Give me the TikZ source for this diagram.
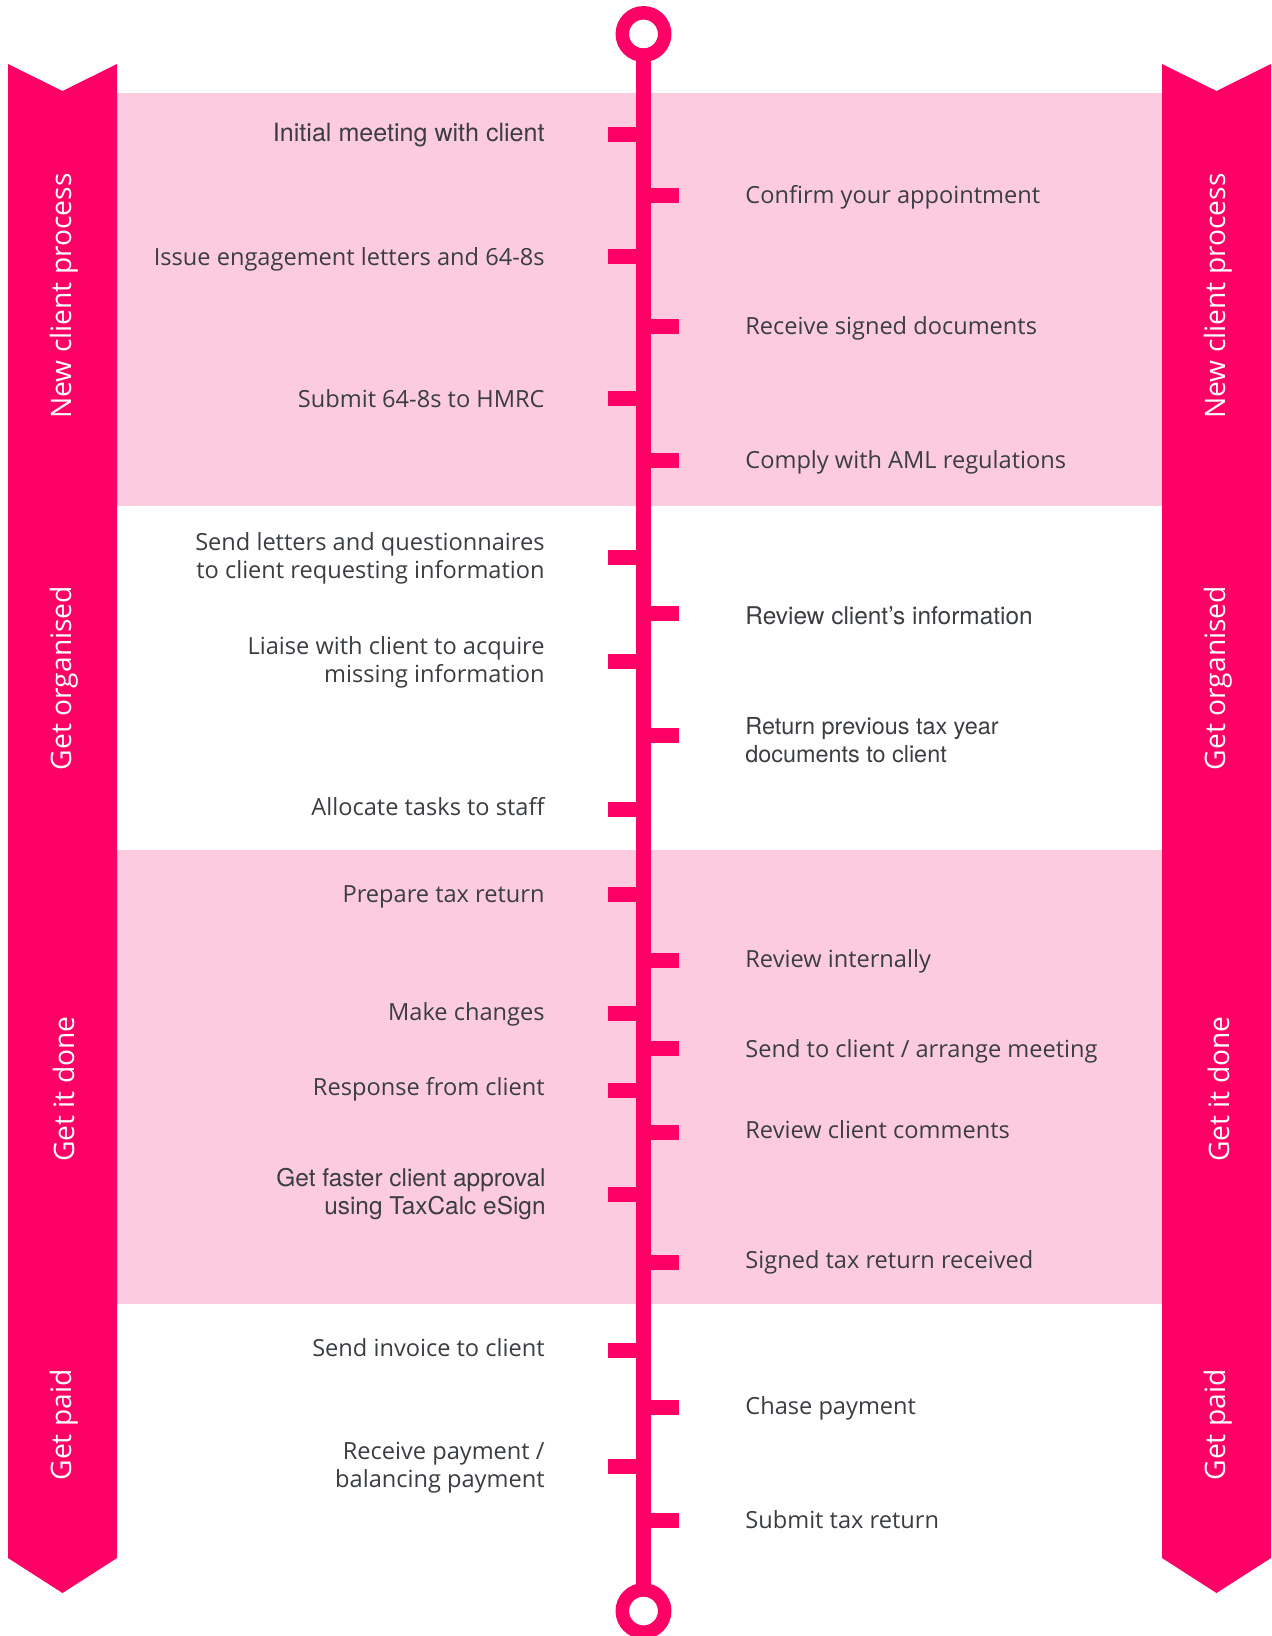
\documentclass[tikz,border=0pt]{standalone}
\usepackage{fontspec}
\setmainfont{Open Sans}
\newfontfamily\helv{TeX Gyre Heros}
\definecolor{hotpink}{HTML}{FF0066}
\definecolor{blush}{HTML}{FDCBE0}
\definecolor{ink}{HTML}{3A3D42}

\begin{document}
\begin{tikzpicture}[x=0.5pt,y=-0.5pt,
    lefttask/.style={anchor=east,align=right,inner sep=0pt,text=ink,
      font=\fontsize{11.8}{14}\selectfont},
    righttask/.style={anchor=west,align=left,inner sep=0pt,text=ink,
      font=\fontsize{11.8}{14}\selectfont},
    helvtask/.style={font=\helv\fontsize{#1}{14}\selectfont},
    helvtask/.default=12.2,
    stage/.style={rotate=90,inner sep=0pt,text=white,
      font=\fontsize{14.1}{16}\selectfont},
    banner/.style={fill=hotpink},
    spur/.style={fill=hotpink}]
    \useasboundingbox (0,0) rectangle (1271,1636);

    % Shaded stages
    \fill[blush] (117,92.7) rectangle (1162,505.7);
    \fill[blush] (117,849.7) rectangle (1162,1303.7);

    % Side banners
    \fill[banner] (8,64) -- (62.5,91) -- (117,64) -- (117,1558)
      -- (62.5,1593) -- (8,1558) -- cycle;
    \fill[banner] (1162,64) -- (1216.5,91) -- (1271,64) -- (1271,1558)
      -- (1216.5,1593) -- (1162,1558) -- cycle;

    % Spurs on both sides of the timeline
    \foreach \y in {134.5,256.8,398.6,557.5,661.5,809.5,894.5,1013.2,1090.5,1194,1350.5,1466.5}
      \fill[spur] (608,\y-7.5) rectangle (643.5,\y+7.5);
    \foreach \y in {195.5,326.6,460.2,613.5,735.5,960,1048.7,1132.2,1262.5,1407.7,1520.5}
      \fill[spur] (643.5,\y-7.5) rectangle (679,\y+7.5);

    % Timeline with its end rings
    \coordinate (top) at (643.5,34);
    \coordinate (bottom) at (643.5,1611);
    \draw[hotpink,line width=7.25pt] (top) -- (bottom);
    \fill[white] (top) circle (7.25pt);
    \fill[white] (bottom) circle (7.25pt);
    \draw[hotpink,line width=6.75pt] (top) circle (10.6pt);
    \draw[hotpink,line width=6.75pt] (bottom) circle (10.6pt);

    % Stage names
    \node[stage] (newL) at (64,296) {New client process};
    \node[stage] (orgL) at (64,678) {Get organised};
    \node[stage] (doneL) at (64,1089) {Get it done};
    \node[stage] (paidL) at (64,1425) {Get paid};
    \node[stage] (newR) at (1218.5,296) {New client process};
    \node[stage] (orgR) at (1218.5,678) {Get organised};
    \node[stage] (doneR) at (1218.5,1089) {Get it done};
    \node[stage] (paidR) at (1218.5,1425) {Get paid};

    % Tasks left of the timeline
    \node[lefttask,helvtask=12.55] (meet) at (545,135) {Initial meeting with client};
    \node[lefttask] (issue) at (545,259.8) {Issue engagement letters and 64-8s};
    \node[lefttask] (submit) at (545,398.6) {Submit 64-8s to HMRC};
    \node[lefttask] (letters) at (545,558.5) {Send letters and questionnaires\\to client requesting information};
    \node[lefttask] (liaise) at (545,662.5) {Liaise with client to acquire\\missing information};
    \node[lefttask] (allocate) at (545,806.5) {Allocate tasks to staff};
    \node[lefttask] (prepare) at (545,896.5) {Prepare tax return};
    \node[lefttask] (changes) at (545,1014.2) {Make changes};
    \node[lefttask] (response) at (545,1089.5) {Response from client};
    \node[lefttask,helvtask] (approval) at (546,1194) {Get faster client approval\\using TaxCalc eSign};
    \node[lefttask] (invoice) at (545,1347.5) {Send invoice to client};
    \node[lefttask] (payment) at (545,1467.5) {Receive payment /\\balancing payment};

    % Tasks right of the timeline
    \node[righttask] (confirm) at (745,197.5) {Confirm your appointment};
    \node[righttask] (signed) at (745,328.6) {Receive signed documents};
    \node[righttask] (aml) at (745,462.2) {Comply with AML regulations};
    \node[righttask,helvtask] (review) at (745,616) {Review client’s information};
    \node[righttask,helvtask=11.7] (return) at (745,740) {Return previous tax year\\documents to client};
    \node[righttask] (internal) at (745,961) {Review internally};
    \node[righttask] (send) at (745,1051.7) {Send to client / arrange meeting};
    \node[righttask] (comments) at (745,1129.2) {Review client comments};
    \node[righttask] (received) at (745,1262.5) {Signed tax return received};
    \node[righttask] (chase) at (745,1408.7) {Chase payment};
    \node[righttask] (file) at (745,1519.5) {Submit tax return};
  \end{tikzpicture}
\end{document}
